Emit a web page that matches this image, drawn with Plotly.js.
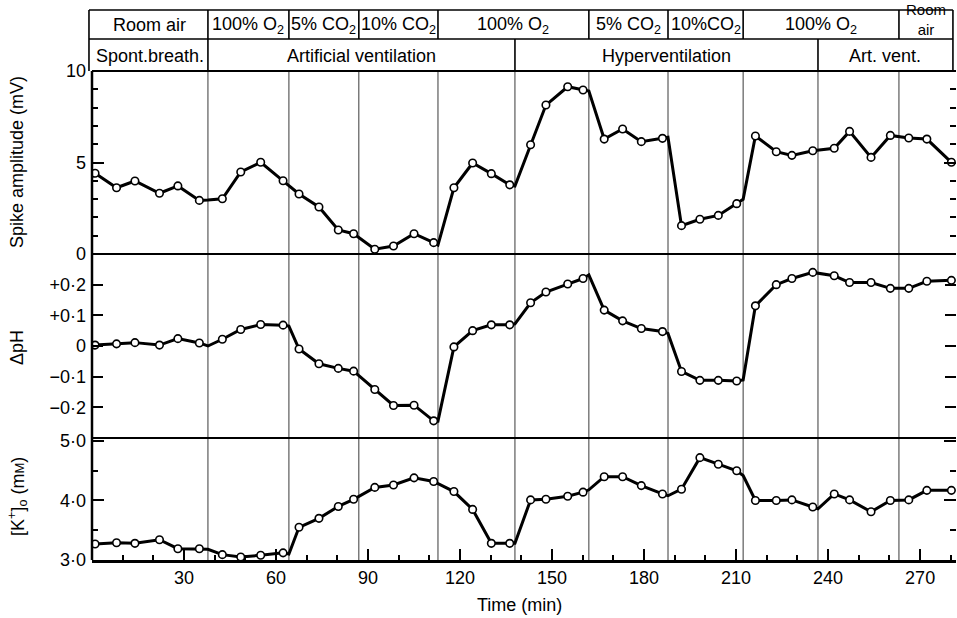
<!DOCTYPE html>
<html>
<head>
<meta charset="utf-8">
<script src="https://cdn.plot.ly/plotly-3.0.1.min.js"></script>
<style>html,body{margin:0;padding:0;background:#fff;}#chart{width:957px;height:618px;}</style>
</head>
<body>
<div id="chart"></div>
<script>
// ---- data ----
const time = [1, 8, 14, 22, 28, 35, 42.5, 48.5, 55, 62.3, 67.5, 74, 80.3, 85.3, 92.2, 98.3, 105, 111.4, 118, 124.1, 130.2, 136.2, 143, 148, 155.1, 160.1, 167, 173, 179.1, 186, 192.2, 198.2, 204.2, 210.2, 216.3, 223.1, 228.2, 235, 242, 247, 254, 260.3, 266.3, 272.2, 280.2];
const spike = [4.41, 3.62, 3.99, 3.32, 3.72, 2.93, 3.02, 4.48, 5.01, 4.0, 3.28, 2.57, 1.31, 1.11, 0.26, 0.44, 1.11, 0.62, 3.62, 4.97, 4.39, 3.78, 5.97, 8.14, 9.14, 8.96, 6.28, 6.83, 6.14, 6.32, 1.55, 1.90, 2.11, 2.75, 6.45, 5.59, 5.39, 5.64, 5.78, 6.70, 5.28, 6.48, 6.34, 6.28, 5.01];
const dpH = [0.003, 0.007, 0.011, 0.003, 0.024, 0.010, 0.022, 0.054, 0.070, 0.068, -0.010, -0.058, -0.073, -0.082, -0.142, -0.194, -0.193, -0.244, -0.003, 0.050, 0.069, 0.069, 0.141, 0.176, 0.202, 0.220, 0.117, 0.082, 0.057, 0.047, -0.083, -0.112, -0.112, -0.114, 0.131, 0.200, 0.220, 0.240, 0.229, 0.207, 0.207, 0.188, 0.188, 0.211, 0.214];
const kOut = [3.27, 3.29, 3.28, 3.34, 3.19, 3.19, 3.09, 3.05, 3.08, 3.12, 3.55, 3.70, 3.90, 4.02, 4.22, 4.26, 4.38, 4.32, 4.15, 3.85, 3.28, 3.28, 4.01, 4.02, 4.07, 4.14, 4.40, 4.40, 4.25, 4.11, 4.19, 4.72, 4.61, 4.50, 4.0, 4.0, 4.01, 3.89, 4.11, 4.01, 3.81, 4.0, 4.01, 4.17, 4.17];

// unmarked corners of the traces at the phase changes
const spikeBreakT = [37.8, 112.8, 137.9, 162, 187.8, 212.3];
const spikeBreakV = [2.95, 0.49, 3.72, 8.9, 6.38, 2.99];
const pHBreakT = [37.8, 64.2, 112.8, 137.9, 162, 187.8, 212.3];
const pHBreakV = [0.0, 0.065, -0.245, 0.072, 0.232, 0.041, -0.111];
const kBreakT = [37.8, 64.2, 137.9, 162, 187.8, 212.3, 236.7];
const kBreakV = [3.18, 3.10, 3.28, 4.18, 4.08, 4.42, 3.86];

// experimental phases (header)
const gasStart = [0, 37.8, 64.2, 87, 112.8, 162, 187.8, 212.3, 263.1];
const gasLabel = ['Room air', '100% O<sub>2</sub>', '5% CO<sub>2</sub>', '10% CO<sub>2</sub>', '100% O<sub>2</sub>', '5% CO<sub>2</sub>', '10%CO<sub>2</sub>', '100% O<sub>2</sub>', 'Room<br>air'];
const ventStart = [0, 37.8, 137.9, 236.7];
const ventLabel = ['Spont.breath.', 'Artificial ventilation', 'Hyperventilation', 'Art. vent.'];
const endTime = 280.7;

const xTicks = [30, 60, 90, 120, 150, 180, 210, 240, 270];
const y1Ticks = [0, 5, 10];
const y1Text = ['0', '5', '10'];
const y2Ticks = [-0.2, -0.1, 0, 0.1, 0.2];
const y2Text = ['\u22120\u00b72', '\u22120\u00b71', '0', '+0\u00b71', '+0\u00b72'];
const y3Ticks = [3, 4, 5];
const y3Text = ['3\u00b70', '4\u00b70', '5\u00b70'];

// ---- build ----
const xMax = 281.7;
const FONT = 'Liberation Sans, Arial, Helvetica, sans-serif';

function merged(t, v, bt, bv) {
  const pts = t.map((x, i) => [x, v[i]]).concat(bt.map((x, i) => [x, bv[i]]));
  pts.sort((a, b) => a[0] - b[0]);
  return {x: pts.map(p => p[0]), y: pts.map(p => p[1])};
}

function panelTraces(t, v, bt, bv, ya) {
  const m = merged(t, v, bt, bv);
  return [
    {x: m.x, y: m.y, xaxis: 'x', yaxis: ya, mode: 'lines', line: {color: 'black', width: 3}, hoverinfo: 'skip'},
    {x: t, y: v, xaxis: 'x', yaxis: ya, mode: 'markers', marker: {symbol: 'circle', size: 7.5, color: 'white', line: {color: 'black', width: 1.6}}}
  ];
}

const traces = [].concat(
  panelTraces(time, spike, spikeBreakT, spikeBreakV, 'y'),
  panelTraces(time, dpH, pHBreakT, pHBreakV, 'y2'),
  panelTraces(time, kOut, kBreakT, kBreakV, 'y3')
);

// page geometry: plot area y 71..560 (489px)
const H = 489;
const pageY = py => (560 - py) / H;
const yHeadTop = pageY(10), yHeadMid = pageY(39);
const d1 = [pageY(254), 1], d2 = [pageY(438), pageY(254)], d3 = [0, pageY(438)];
const xp = t => t / xMax;
const headLeft = -0.0035, headRight = xp(endTime);

const shapes = [];
const L = (x0, y0, x1, y1, w, xref, col) => shapes.push({type: 'line', xref: xref || 'paper', yref: 'paper', x0, y0, x1, y1, line: {color: col || 'black', width: w}, layer: 'above'});

// left axis line and panel dividers
L(0, 0, 0, 1, 2.5);
L(0, 1, 1, 1, 2);
L(0, d1[0], 1, d1[0], 2);
L(0, d2[0], 1, d2[0], 2);
// header box
L(headLeft, yHeadTop, headRight, yHeadTop, 1.6);
L(headLeft, yHeadMid, headRight, yHeadMid, 1.6);
L(headLeft, yHeadTop, headLeft, 1, 1.6);
L(headRight, yHeadTop, headRight, 1, 1.6);
gasStart.slice(1).forEach(t => L(xp(t), yHeadTop, xp(t), yHeadMid, 1.6));
ventStart.slice(1).forEach(t => L(xp(t), yHeadMid, xp(t), 1, 1.6));
// phase lines through the panels
gasStart.slice(1).concat([137.9, 236.7]).forEach(t => shapes.push({type: 'line', xref: 'x', yref: 'paper', x0: t, x1: t, y0: 0, y1: 1, line: {color: '#3a3a3a', width: 1}, layer: 'below'}));

const annotations = [];
gasStart.forEach((s, i) => {
  const e = i + 1 < gasStart.length ? gasStart[i + 1] : endTime;
  const c = (s + e) / 2;
  const twoLine = gasLabel[i].indexOf('<br>') >= 0;
  annotations.push({xref: 'x', yref: 'paper', x: c, y: pageY(twoLine ? 19 : 25), text: gasLabel[i], showarrow: false, xanchor: 'center', yanchor: 'middle', font: {size: twoLine ? 15 : 18, family: FONT, color: 'black'}});
});
ventStart.forEach((s, i) => {
  const e = i + 1 < ventStart.length ? ventStart[i + 1] : endTime;
  annotations.push({xref: 'x', yref: 'paper', x: (s + e) / 2, y: pageY(55.5), text: ventLabel[i], showarrow: false, xanchor: 'center', yanchor: 'middle', font: {size: 18, family: FONT, color: 'black'}});
});
// axis titles
const titleX = (17 - 92) / 864;
annotations.push({xref: 'paper', yref: 'paper', x: titleX, y: pageY(162), text: 'Spike amplitude (mV)', textangle: -90, showarrow: false, xanchor: 'center', yanchor: 'middle', font: {size: 18, family: FONT, color: 'black'}});
annotations.push({xref: 'paper', yref: 'paper', x: titleX, y: pageY(348), text: '\u0394pH', textangle: -90, showarrow: false, xanchor: 'center', yanchor: 'middle', font: {size: 18, family: FONT, color: 'black'}});
annotations.push({xref: 'paper', yref: 'paper', x: titleX, y: pageY(497), text: "[K<sup>+</sup>]<sub>o</sub> (m<span style='font-size:13px'>M</span>)", textangle: -90, showarrow: false, xanchor: 'center', yanchor: 'middle', font: {size: 18, family: FONT, color: 'black'}});
annotations.push({xref: 'paper', yref: 'paper', x: (519 - 92) / 864, y: pageY(605), text: 'Time (min)', showarrow: false, xanchor: 'center', yanchor: 'middle', font: {size: 18, family: FONT, color: 'black'}});

function yAxis(domain, range, tv, tt, len, minor) {
  const a = {domain, range, anchor: 'x', tickmode: 'array', tickvals: tv, ticktext: tt.map(s => s + '\u00a0'), ticks: 'inside', ticklen: len, tickwidth: 2, tickcolor: 'black', mirror: 'ticks', showline: false, showgrid: false, zeroline: false, tickfont: {size: 18, family: FONT, color: 'black'}, fixedrange: true};
  if (minor) a.minor = Object.assign({tickmode: 'linear', ticks: 'inside', ticklen: 6, tickwidth: 2, tickcolor: 'black', showgrid: false}, minor);
  return a;
}

const layout = {
  width: 957, height: 618,
  margin: {l: 92, r: 1, t: 71, b: 58},
  paper_bgcolor: 'white', plot_bgcolor: 'white',
  showlegend: false,
  font: {family: FONT, size: 18, color: 'black'},
  xaxis: {domain: [0, 1], anchor: 'y3', range: [0, xMax], tickmode: 'array', tickvals: xTicks, ticktext: xTicks.map(String), ticks: 'inside', ticklen: 11, tickwidth: 2, tickcolor: 'black', showline: true, linewidth: 2.5, linecolor: 'black', showgrid: false, zeroline: false, tickfont: {size: 18, family: FONT, color: 'black'},
    minor: {tickmode: 'linear', tick0: 0, dtick: 10, ticks: 'inside', ticklen: 5, tickwidth: 2, tickcolor: 'black', showgrid: false}, fixedrange: true},
  yaxis: yAxis(d1, [0, 10], y1Ticks, y1Text, 12, {tick0: 0, dtick: 1}),
  yaxis2: yAxis(d2, [-0.3, 0.3], y2Ticks, y2Text, 11, null),
  yaxis3: yAxis(d3, [3, 5.05], y3Ticks, y3Text, 12, {tick0: 3, dtick: 0.5}),
  shapes, annotations
};

Plotly.newPlot('chart', traces, layout, {staticPlot: true, displayModeBar: false});
</script>
</body>
</html>
